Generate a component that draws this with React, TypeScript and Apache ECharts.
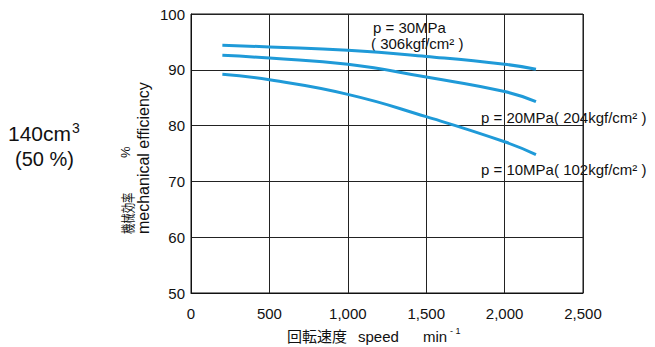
import React, { useEffect, useRef } from "react";
import * as echarts from "echarts";

const speeds = [200, 500, 1000, 1500, 2000, 2200];
const eff30 = [94.4, 94.1, 93.5, 92.4, 91.0, 90.1];
const eff20 = [92.6, 92.1, 91.0, 88.7, 86.1, 84.3];
const eff10 = [89.2, 88.2, 85.6, 81.6, 77.1, 74.8];
const xTicks = [0, 500, 1000, 1500, 2000, 2500];
const yTicks = [50, 60, 70, 80, 90, 100];

const FONT = "'Liberation Sans', Arial, 'Noto Sans CJK JP', sans-serif";
const BLUE = "#1f9ad8";

export default function App() {
  const ref = useRef<HTMLDivElement>(null);
  useEffect(() => {
    if (!ref.current) return;
    const chart = echarts.init(ref.current, null, { renderer: "svg" });
    const mk = (d: number[]) => speeds.map((s, i) => [s, d[i]]);
    const txt = (x: number, y: number, text: string, size = 15, extra: any = {}) => ({
      type: "text",
      x,
      y,
      style: { text, fill: "#111", font: `${size}px ${FONT}`, verticalAlign: "middle", ...extra },
    });
    const vtxt = (x: number, y: number, text: string, size: number, sx = 1) => ({
      type: "text",
      x,
      y,
      rotation: Math.PI / 2,
      scaleX: sx,
      style: { text, fill: "#111", font: `${size}px ${FONT}`, align: "left", verticalAlign: "middle" },
    });
    chart.setOption({
      animation: false,
      backgroundColor: "#fff",
      grid: { left: 191, top: 14, width: 392, height: 279, show: true, borderColor: "#111", borderWidth: 1 },
      xAxis: {
        type: "value",
        min: xTicks[0],
        max: xTicks[xTicks.length - 1],
        interval: 500,
        axisLine: { show: true, lineStyle: { color: "#111" } },
        axisTick: { show: false },
        splitLine: { show: true, lineStyle: { color: "#222", width: 1 } },
        axisLabel: {
          color: "#111",
          fontSize: 15,
          fontFamily: FONT,
          margin: 13,
          formatter: (v: number) => v.toLocaleString("en-US"),
        },
      },
      yAxis: {
        type: "value",
        min: yTicks[0],
        max: yTicks[yTicks.length - 1],
        interval: 10,
        axisLine: { show: true, lineStyle: { color: "#111" } },
        axisTick: { show: false },
        splitLine: { show: true, lineStyle: { color: "#222", width: 1 } },
        axisLabel: { color: "#111", fontSize: 15, fontFamily: FONT, margin: 6 },
      },
      series: [
        { name: "30MPa", data: mk(eff30) },
        { name: "20MPa", data: mk(eff20) },
        { name: "10MPa", data: mk(eff10) },
      ].map((s) => ({
        ...s,
        type: "line",
        smooth: true,
        showSymbol: false,
        lineStyle: { color: BLUE, width: 3 },
      })),
      graphic: [
        txt(373, 27, "p = 30MPa"),
        txt(371, 43, "( 306kgf/cm² )"),
        txt(481, 117, "p = 20MPa( 204kgf/cm² )"),
        txt(481, 169, "p = 10MPa( 102kgf/cm² )"),
        txt(8, 133, "140cm", 21),
        txt(72, 128, "3", 14),
        txt(15, 159, "(50 %)", 20),
        txt(287, 336, "回転速度", 15),
        txt(358, 336, "speed", 15),
        txt(423, 336, "min", 15),
        txt(450, 331, "- 1", 9),
        vtxt(128.5, 234, "機械効率", 14, 0.74),
        vtxt(125, 158, "%", 13),
        vtxt(143, 234, "mechanical efficiency", 16),
      ],
    });
    return () => chart.dispose();
  }, []);
  return <div ref={ref} style={{ position: "fixed", left: 0, top: 0, width: 655, height: 347 }} />;
}
